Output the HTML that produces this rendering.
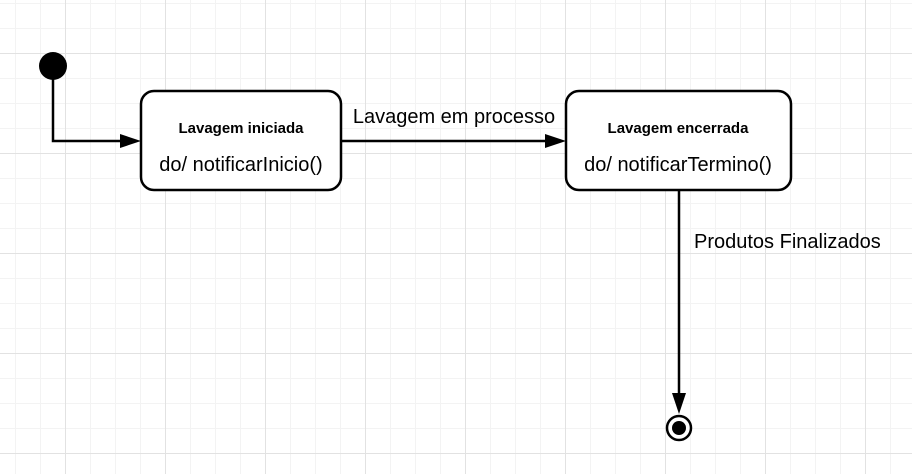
<!DOCTYPE html>
<html><head><meta charset="utf-8"><style>
html,body{margin:0;padding:0;background:#fff;}
svg{display:block;}
text{font-family:"Liberation Sans",Arial,sans-serif;fill:#000;}
</style></head><body>
<svg width="912" height="474" viewBox="0 0 912 474" xmlns="http://www.w3.org/2000/svg">
<defs>
<pattern id="minor" x="15" y="3" width="25" height="25" patternUnits="userSpaceOnUse">
<path d="M0.5 0V25M0 0.5H25" stroke="#f3f3f3" stroke-width="1" fill="none"/>
</pattern>
<pattern id="major" x="65" y="53" width="100" height="100" patternUnits="userSpaceOnUse">
<path d="M0.5 0V100M0 0.5H100" stroke="#e2e2e2" stroke-width="1" fill="none"/>
</pattern>
</defs>
<rect width="912" height="474" fill="#fff"/>
<rect width="912" height="474" fill="url(#minor)"/>
<rect width="912" height="474" fill="url(#major)"/>

<circle cx="53" cy="66" r="14" fill="#000"/>
<path d="M53 78V141H124" stroke="#000" stroke-width="2.5" fill="none"/>
<path d="M141 141L120 134L120 148Z" fill="#000"/>

<rect x="141" y="91" width="200" height="99" rx="13" fill="#fff" stroke="#000" stroke-width="2.5"/>
<text x="241" y="133" font-size="15" font-weight="bold" text-anchor="middle">Lavagem iniciada</text>
<text x="241" y="171" font-size="20" text-anchor="middle">do/ notificarInicio()</text>

<path d="M341 141H549" stroke="#000" stroke-width="2.5" fill="none"/>
<path d="M566 141L545 134L545 148Z" fill="#000"/>
<text x="454" y="123" font-size="20" text-anchor="middle">Lavagem em processo</text>

<rect x="566" y="91" width="225" height="99" rx="13" fill="#fff" stroke="#000" stroke-width="2.5"/>
<text x="678" y="133" font-size="15" font-weight="bold" text-anchor="middle">Lavagem encerrada</text>
<text x="678" y="171" font-size="20" text-anchor="middle">do/ notificarTermino()</text>

<path d="M679 190V397" stroke="#000" stroke-width="2.5" fill="none"/>
<path d="M679 414L672 393L686 393Z" fill="#000"/>
<text x="694" y="248" font-size="20">Produtos Finalizados</text>

<circle cx="679" cy="428" r="12" fill="#fff" stroke="#000" stroke-width="2.5"/>
<circle cx="679" cy="428" r="7" fill="#000"/>
</svg>
</body></html>
